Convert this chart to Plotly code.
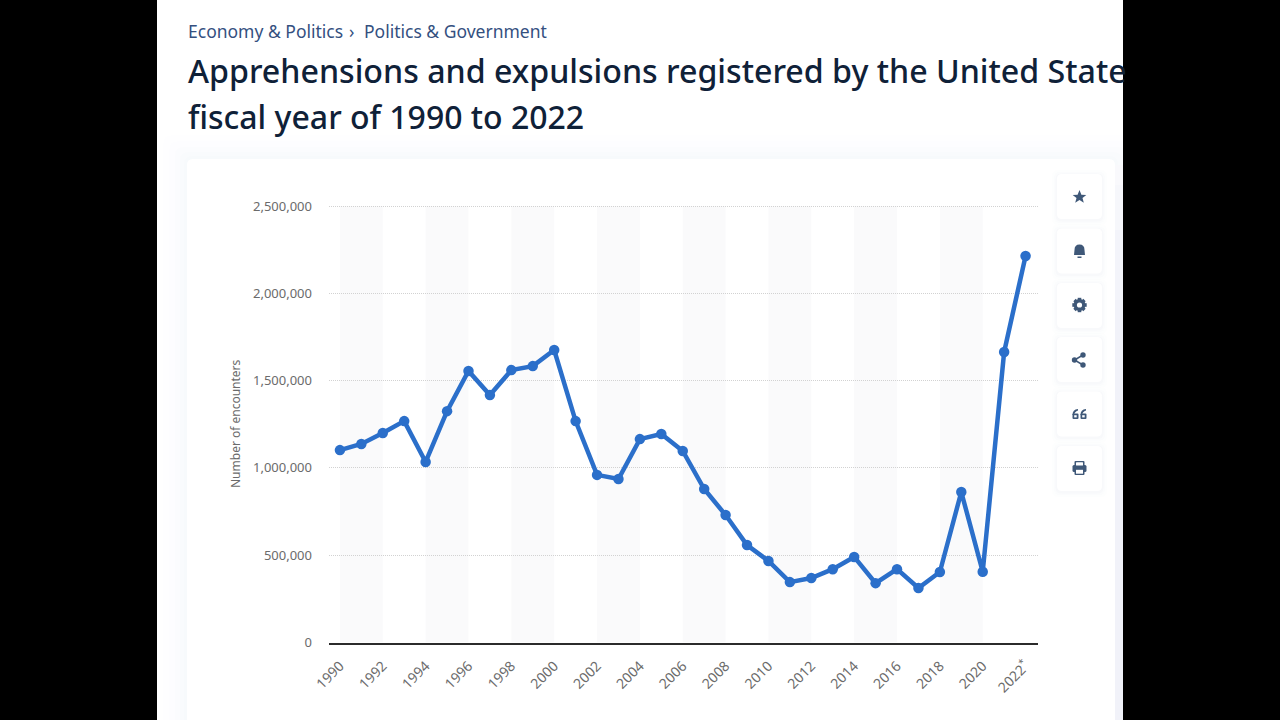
import plotly.graph_objects as go

years = list(range(1990, 2023))
encounters = [1102000, 1137000, 1200000, 1268000, 1034000, 1325000, 1555000, 1417000,
              1560000, 1583000, 1675000, 1268000, 960000, 936000, 1165000, 1194000,
              1097000, 879000, 730000, 558000, 467000, 346000, 369000, 420000,
              490000, 340000, 420000, 312000, 404000, 862000, 405000, 1664000, 2214000]
tick_years = list(range(1990, 2023, 2))
tick_labels = [str(y) for y in tick_years[:-1]] + ["2022<sup>*</sup>"]
value_ticks = [0, 500000, 1000000, 1500000, 2000000, 2500000]
value_labels = ["0", "500,000", "1,000,000", "1,500,000", "2,000,000", "2,500,000"]
band_starts = list(range(1990, 2020, 4))

W, H = 1280, 720
FONT = "Noto Sans"
ICON = "#3f5878"


def px(x):
    return x / W


def py(y):
    return 1 - y / H


def path(cmds):
    out = []
    for c in cmds:
        if c == "Z":
            out.append("Z")
        else:
            parts = [c[0]]
            vals = c[1:]
            for i in range(0, len(vals), 2):
                parts.append(f"{px(vals[i]):.6f},{py(vals[i + 1]):.6f}")
            out.append(parts[0] + " ".join(parts[1:]))
    return " ".join(out)


def rounded(x0, y0, x1, y1, r):
    return path([("M", x0 + r, y0), ("L", x1 - r, y0), ("Q", x1, y0, x1, y0 + r),
                 ("L", x1, y1 - r), ("Q", x1, y1, x1 - r, y1),
                 ("L", x0 + r, y1), ("Q", x0, y1, x0, y1 - r),
                 ("L", x0, y0 + r), ("Q", x0, y0, x0 + r, y0), "Z"])


shapes = []


def fill_path(d, color, opacity=1):
    shapes.append(dict(type="path", path=d, xref="paper", yref="paper", fillcolor=color,
                       opacity=opacity, line=dict(width=0), layer="below"))


def rect(x0, y0, x1, y1, color, layer="below"):
    shapes.append(dict(type="rect", xref="paper", yref="paper", x0=px(x0), x1=px(x1),
                       y0=py(y1), y1=py(y0), fillcolor=color, line=dict(width=0), layer=layer))


def circle(cx, cy, r, color):
    shapes.append(dict(type="circle", xref="paper", yref="paper", x0=px(cx - r), x1=px(cx + r),
                       y0=py(cy + r), y1=py(cy - r), fillcolor=color, line=dict(width=0), layer="below"))


# card shadow and card
for grow, op in [(24, 0.004), (18, 0.005), (12, 0.006), (7, 0.007), (3, 0.008)]:
    fill_path(rounded(187 - grow, 159 - grow, 1115 + grow, 760, 8), "#3a4a8a", op)
for top, col in [(165, "#f9f9fc"), (185, "#f6f7fb"), (230, "#f3f4fa"), (300, "#f1f2f9")]:
    rect(1115, top, 1123, 720, col)
fill_path(rounded(187, 159, 1115, 760, 6), "#ffffff")

# action buttons
card_tops = [174, 228.5, 283, 337, 391.5, 446]
for t in card_tops:
    for grow, op in [(5, 0.008), (3, 0.012), (1.5, 0.016)]:
        fill_path(rounded(1057 - grow, t - grow + 1, 1102 + grow, t + 45 + grow + 1, 6), "#3a4a8a", op)
    fill_path(rounded(1057, t, 1102, t + 45, 5), "#ffffff")

# star
cx, cy = 1079.5, 197
pts = [(0, -7), (1.9, -2.3), (6.8, -2.1), (3, 1), (4.3, 5.8), (0, 3.1), (-4.3, 5.8), (-3, 1), (-6.8, -2.1), (-1.9, -2.3)]
fill_path(path([("M", cx + pts[0][0], cy + pts[0][1])] + [("L", cx + a, cy + b) for a, b in pts[1:]] + ["Z"]), ICON)
# bell
cx, cy = 1079.5, 251
fill_path(path([("M", cx - 5.5, cy + 4), ("L", cx - 5, cy - 1), ("Q", cx - 5, cy - 6.5, cx, cy - 6.5),
                ("Q", cx + 5, cy - 6.5, cx + 5, cy - 1), ("L", cx + 5.5, cy + 4), "Z"]), ICON)
rect(cx - 2, cy + 5.5, cx + 2, cy + 7, ICON)
# gear
cx, cy = 1079.5, 305
circle(cx, cy, 6, ICON)
rect(cx - 1.8, cy - 7.2, cx + 1.8, cy + 7.2, ICON)
rect(cx - 7.2, cy - 1.8, cx + 7.2, cy + 1.8, ICON)
for a, b in [(1, 1), (1, -1)]:
    fill_path(path([("M", cx - 5 * a - 1.2, cy - 5 * b + 1.2 * a * b), ("L", cx - 5 * a + 1.2, cy - 5 * b - 1.2 * a * b),
                    ("L", cx + 5 * a + 1.2, cy + 5 * b - 1.2 * a * b), ("L", cx + 5 * a - 1.2, cy + 5 * b + 1.2 * a * b), "Z"]), ICON)
circle(cx, cy, 2.6, "#ffffff")
# share
cx, cy = 1079, 360
circle(cx + 4, cy - 5, 2.7, ICON)
circle(cx + 4, cy + 5, 2.7, ICON)
circle(cx - 4.5, cy, 2.7, ICON)
shapes.append(dict(type="path", xref="paper", yref="paper", layer="below",
                   path=path([("M", cx + 4, cy - 5), ("L", cx - 4.5, cy), ("L", cx + 4, cy + 5)]),
                   line=dict(color=ICON, width=1.5)))
# quote
cx, cy = 1079.5, 414
for dx in (-7, 1):
    fill_path(rounded(cx + dx, cy - 0.5, cx + dx + 6, cy + 5, 1), ICON)
    fill_path(path([("M", cx + dx, cy + 1), ("Q", cx + dx, cy - 4.5, cx + dx + 5.5, cy - 5),
                    ("L", cx + dx + 5.5, cy - 3.5), ("Q", cx + dx + 2, cy - 2.5, cx + dx + 1.5, cy + 1), "Z"]), ICON)
    rect(cx + dx + 1.7, cy + 1.2, cx + dx + 4.2, cy + 3.4, "#ffffff")
# printer
cx, cy = 1079.5, 468
fill_path(rounded(cx - 7, cy - 3, cx + 7, cy + 4, 1.5), ICON)
fill_path(rounded(cx - 5, cy - 7, cx + 5, cy - 2, 1), ICON)
fill_path(rounded(cx - 3.5, cy - 5.7, cx + 3.5, cy - 2.5, 0.5), "#ffffff")
fill_path(rounded(cx - 5, cy + 1, cx + 5, cy + 7, 1), ICON)
rect(cx - 3.5, cy + 1.8, cx + 3.5, cy + 5.7, "#ffffff")

# alternating bands
for s in band_starts:
    shapes.append(dict(type="rect", xref="x", yref="y", x0=s, x1=s + 2,
                       y0=value_ticks[0], y1=value_ticks[-1], fillcolor="#fafafb",
                       line=dict(width=0), layer="below"))

# black side bars
rect(0, 0, 157, 720, "#000000", "above")
rect(1123, 0, 1280, 720, "#000000", "above")

fig = go.Figure(go.Scatter(
    x=years, y=encounters, mode="lines+markers",
    line=dict(color="#2b6fca", width=4.5),
    marker=dict(color="#2b6fca", size=10.5),
    hoverinfo="x+y", showlegend=False,
))

annotations = [
    dict(text="Economy &amp; Politics", x=px(186.5), y=py(31), font=dict(family=FONT, size=17.5, color="#34507f")),
    dict(text="›", x=px(348), y=py(31), font=dict(family=FONT, size=17.5, color="#34507f")),
    dict(text="Politics &amp; Government", x=px(362.5), y=py(31), font=dict(family=FONT, size=17.5, color="#34507f")),
    dict(text="Apprehensions and expulsions registered by the United State",
         x=px(186.5), y=py(71), align="left",
         font=dict(family=FONT, size=32.15, color="#0f2138", weight=500)),
    dict(text="fiscal year of 1990 to 2022", x=px(186.5), y=py(117),
         font=dict(family=FONT, size=32, color="#0f2138", weight=500)),
    dict(text="Number of encounters", x=px(235), y=py(424), textangle=-90, xanchor="center",
         font=dict(family=FONT, size=12, color="#6b6b6b")),
]
for a in annotations:
    a.update(xref="paper", yref="paper", yanchor="middle", showarrow=False, borderpad=0)
    a.setdefault("xanchor", "left")

fig.update_layout(
    width=W, height=H, autosize=False,
    margin=dict(l=0, r=0, t=0, b=0, pad=0),
    paper_bgcolor="#ffffff", plot_bgcolor="rgba(0,0,0,0)",
    shapes=shapes, annotations=annotations,
    xaxis=dict(domain=[px(329), px(1038)], range=[1989.49, 2022.58], automargin=False,
               tickmode="array", tickvals=tick_years, ticktext=tick_labels, tickangle=-45,
               showgrid=False, zeroline=False, showline=True, linecolor="#2b2b2b", linewidth=1.5,
               ticks="", ticklabelstandoff=8,
               tickfont=dict(family=FONT, size=14, color="#6b6b6b")),
    yaxis=dict(domain=[py(642.5), py(204.25)], range=[0, 2510000], automargin=False,
               tickmode="array", tickvals=value_ticks, ticktext=value_labels,
               showgrid=True, gridcolor="#d2d2d2", griddash="1px,1px", gridwidth=1,
               zeroline=False, showline=False, ticks="", ticklabelstandoff=16,
               tickfont=dict(family=FONT, size=13, color="#6b6b6b")),
)

post = "document.body.style.margin='0';document.body.style.overflow='hidden';"
fig.write_html("out.html", config={"displayModeBar": False}, post_script=post)
